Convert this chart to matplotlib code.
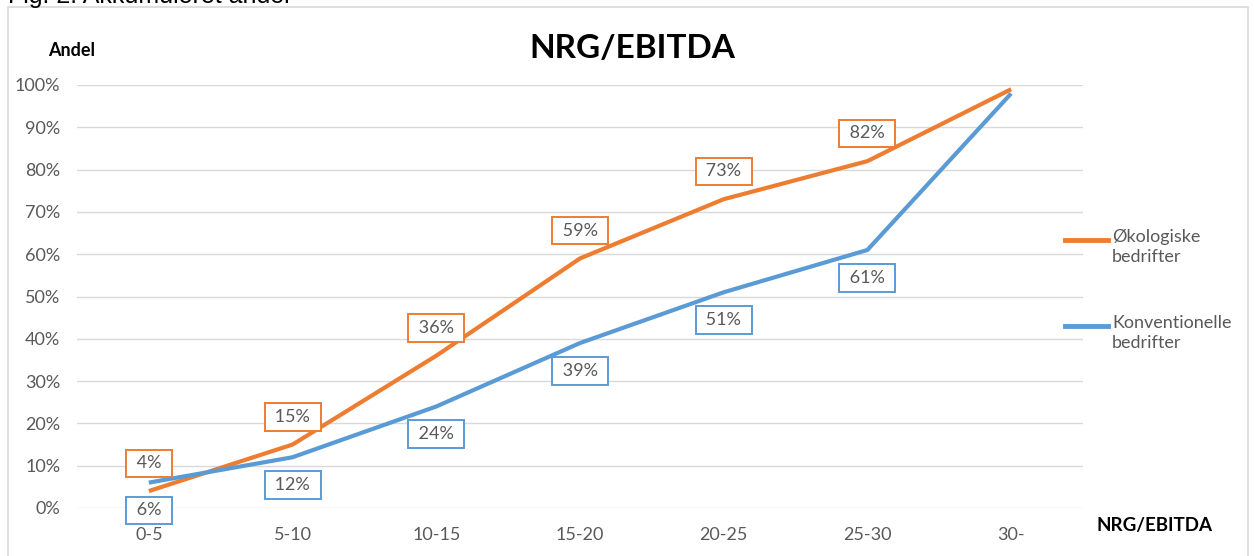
import matplotlib
matplotlib.use("Agg")
import matplotlib.pyplot as plt
from matplotlib.patches import Rectangle
from matplotlib.lines import Line2D

categories = ["0-5", "5-10", "10-15", "15-20", "20-25", "25-30", "30-"]
okologiske = [4, 15, 36, 59, 73, 82, 99]
konventionelle = [6, 12, 24, 39, 51, 61, 98]
label_ok = ["4%", "15%", "36%", "59%", "73%", "82%", None]
label_kon = ["6%", "12%", "24%", "39%", "51%", "61%", None]
series_names = ["Økologiske\nbedrifter", "Konventionelle\nbedrifter"]
yticks = list(range(0, 101, 10))

ORANGE = "#ED7D31"
BLUE = "#5B9BD5"
GRAY = "#595959"
GRID = "#D9D9D9"

plt.rcParams['font.family'] = ['Lato', 'DejaVu Sans']

W, H = 1254, 556
fig = plt.figure(figsize=(W / 100, H / 100), dpi=100)

# outer chart frame
fig.patches.append(Rectangle((8 / W, -0.01), (1248 - 8) / W, (H - 7) / H + 0.01,
                             transform=fig.transFigure, fill=False,
                             edgecolor="#D9D9D9", linewidth=1.2))

# clipped figure caption at the very top
fig.text(8 / W, 1 - 2.5 / H, "Fig. 2: Akkumuleret andel", fontsize=18,
         family="Liberation Sans", color="black", ha="left", va="baseline")

x0, x1 = 77, 1083
y0, y1 = 508, 85  # pixel rows of 0% and 100%
ax = fig.add_axes([x0 / W, (H - y0) / H, (x1 - x0) / W, (y0 - y1) / H])
ax.set_xlim(-0.5, 6.5)
ax.set_ylim(0, 100)

xs = list(range(len(categories)))
l1, = ax.plot(xs, okologiske, color=ORANGE, linewidth=3, solid_capstyle="butt", zorder=3)
l2, = ax.plot(xs, konventionelle, color=BLUE, linewidth=3, solid_capstyle="butt", zorder=3)

for x, v, lab in zip(xs, okologiske, label_ok):
    if lab:
        ax.annotate(" " + lab + " ", (x, v), xytext=(0, 20), textcoords="offset points",
                    ha="center", va="center", fontsize=13, color=GRAY,
                    bbox=dict(boxstyle="square,pad=0.32", fc="white", ec=ORANGE, lw=1.4),
                    zorder=4)
for x, v, lab in zip(xs, konventionelle, label_kon):
    if lab:
        ax.annotate(" " + lab + " ", (x, v), xytext=(0, -20), textcoords="offset points",
                    ha="center", va="center", fontsize=13, color=GRAY,
                    bbox=dict(boxstyle="square,pad=0.32", fc="white", ec=BLUE, lw=1.4),
                    zorder=4)

ax.set_yticks(yticks)
ax.set_yticklabels([f"{t}%" for t in yticks])
ax.set_xticks(xs)
ax.set_xticklabels(categories)
ax.tick_params(axis="both", length=0, labelsize=13, labelcolor=GRAY)
ax.tick_params(axis="y", pad=12)
ax.tick_params(axis="x", pad=14)
ax.grid(axis="y", color=GRID, linewidth=1)
ax.set_axisbelow(True)
for s in ax.spines.values():
    s.set_visible(False)

fig.text(632 / W, 1 - 48 / H, "NRG/EBITDA", fontsize=24, fontweight="bold",
         ha="center", va="center", color="black")
fig.text(48 / W, 1 - 50 / H, "Andel", fontsize=13, fontweight="bold",
         ha="left", va="center", color="black")
fig.text(1213 / W, 1 - 525 / H, "NRG/EBITDA", fontsize=13.5, fontweight="bold",
         ha="right", va="center", color="black")

# legend, drawn as in the reference: handle beside first line of each label
for line, name, ypix in [(l1, series_names[0], 240), (l2, series_names[1], 326)]:
    fig.add_artist(Line2D([1065 / W, 1108 / W], [1 - ypix / H, 1 - ypix / H],
                          color=line.get_color(), linewidth=3.5,
                          transform=fig.transFigure))
    fig.text(1112 / W, 1 - (ypix - 11) / H, name, fontsize=13, color=GRAY,
             ha="left", va="top", linespacing=1.3)

fig.savefig("out.png", dpi=100)
